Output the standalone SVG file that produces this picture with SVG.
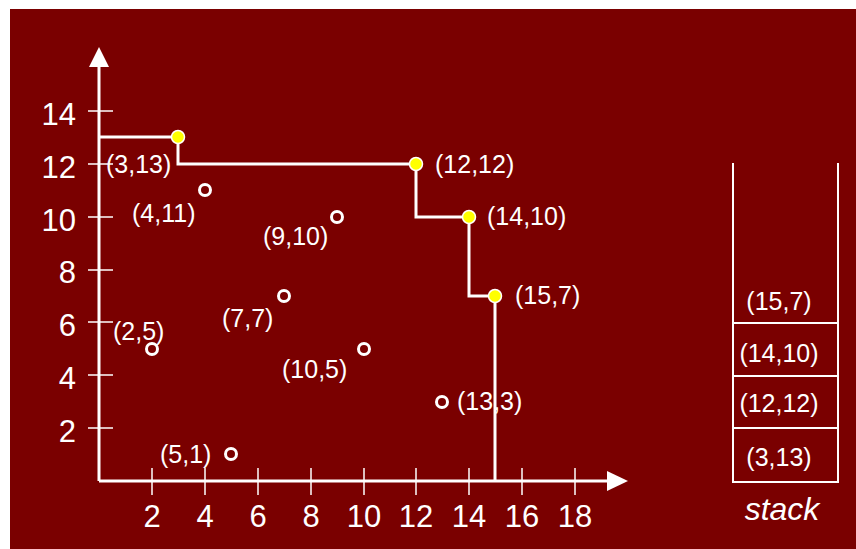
<svg xmlns="http://www.w3.org/2000/svg" width="856" height="549" viewBox="0 0 856 549">
<style>
.t{font-family:"Liberation Sans",Arial,sans-serif;fill:#fff}
.tick{font-size:31px}
.lbl{font-size:25px}
.ax{stroke:#fff;stroke-width:3;fill:none}
.tk{stroke:#fff;stroke-width:1.5}
.st{stroke:#fff;stroke-width:3;fill:none}
.hol{fill:#7a0000;stroke:#fff;stroke-width:3}
.sol{fill:#ffff00;stroke:#fff;stroke-width:1.5}
.stk{stroke:#fff;stroke-width:2;fill:none}
</style>
<rect x="0" y="0" width="856" height="549" fill="#fff"/>
<rect x="10" y="9" width="846" height="540" fill="#7a0000"/>
<g id="axes">
<line class="ax" x1="99" y1="481" x2="99" y2="64"/>
<line class="ax" x1="99" y1="481" x2="610" y2="481"/>
<polygon points="99,47 89,67 109,67" fill="#fff"/>
<polygon points="628,481 607,471 607,491" fill="#fff"/>
<g class="tk">
<line x1="88" y1="111" x2="113" y2="111"/>
<line x1="88" y1="164" x2="113" y2="164"/>
<line x1="88" y1="217" x2="113" y2="217"/>
<line x1="88" y1="270" x2="113" y2="270"/>
<line x1="88" y1="322" x2="113" y2="322"/>
<line x1="88" y1="375" x2="113" y2="375"/>
<line x1="88" y1="428" x2="113" y2="428"/>
<line x1="152" y1="468" x2="152" y2="495"/>
<line x1="205" y1="468" x2="205" y2="495"/>
<line x1="258" y1="468" x2="258" y2="495"/>
<line x1="311" y1="468" x2="311" y2="495"/>
<line x1="364" y1="468" x2="364" y2="495"/>
<line x1="416" y1="468" x2="416" y2="495"/>
<line x1="469" y1="468" x2="469" y2="495"/>
<line x1="522" y1="468" x2="522" y2="495"/>
<line x1="575" y1="468" x2="575" y2="495"/>
</g>
<g class="t tick" text-anchor="end">
<text x="76" y="125">14</text>
<text x="76" y="178">12</text>
<text x="76" y="231">10</text>
<text x="76" y="283">8</text>
<text x="76" y="336">6</text>
<text x="76" y="389">4</text>
<text x="76" y="442">2</text>
</g>
<g class="t tick" text-anchor="middle">
<text x="152" y="527">2</text>
<text x="205" y="527">4</text>
<text x="258" y="527">6</text>
<text x="311" y="527">8</text>
<text x="364" y="527">10</text>
<text x="416" y="527">12</text>
<text x="469" y="527">14</text>
<text x="522" y="527">16</text>
<text x="575" y="527">18</text>
</g>
</g>
<g id="connectors">
<polyline class="st" points="99,137 178,137 178,164 416,164 416,217 469,217 469,296 495,296 495,481"/>
</g>
<g id="p3_13"><circle class="sol" cx="178" cy="137" r="6.5"/><text class="t lbl" x="106" y="173">(3,13)</text></g>
<g id="p12_12"><circle class="sol" cx="416" cy="164" r="6.5"/><text class="t lbl" x="435" y="173">(12,12)</text></g>
<g id="p14_10"><circle class="sol" cx="469" cy="217" r="6.5"/><text class="t lbl" x="487" y="225">(14,10)</text></g>
<g id="p15_7"><circle class="sol" cx="495" cy="296" r="6.5"/><text class="t lbl" x="515" y="304">(15,7)</text></g>
<g id="p4_11"><circle class="hol" cx="205" cy="190" r="5.5"/><text class="t lbl" x="132" y="222">(4,11)</text></g>
<g id="p9_10"><circle class="hol" cx="337" cy="217" r="5.5"/><text class="t lbl" x="263" y="245">(9,10)</text></g>
<g id="p7_7"><circle class="hol" cx="284" cy="296" r="5.5"/><text class="t lbl" x="222" y="327">(7,7)</text></g>
<g id="p2_5"><circle class="hol" cx="152" cy="349" r="5.5"/><text class="t lbl" x="113" y="340">(2,5)</text></g>
<g id="p10_5"><circle class="hol" cx="364" cy="349" r="5.5"/><text class="t lbl" x="282" y="378">(10,5)</text></g>
<g id="p13_3"><circle class="hol" cx="442" cy="402" r="5.5"/><text class="t lbl" x="457" y="410">(13,3)</text></g>
<g id="p5_1"><circle class="hol" cx="231" cy="454" r="5.5"/><text class="t lbl" x="160" y="463">(5,1)</text></g>
<g id="stack">
<polyline class="stk" points="733,163 733,482 838,482 838,163"/>
<line class="stk" x1="733" y1="323" x2="838" y2="323"/>
<line class="stk" x1="733" y1="376" x2="838" y2="376"/>
<line class="stk" x1="733" y1="428" x2="838" y2="428"/>
<g class="t lbl" text-anchor="middle">
<text x="779" y="310">(15,7)</text>
<text x="779" y="362">(14,10)</text>
<text x="779" y="412">(12,12)</text>
<text x="779" y="466">(3,13)</text>
</g>
<text class="t" x="782" y="520" font-size="32" font-style="italic" text-anchor="middle">stack</text>
</g>
</svg>
